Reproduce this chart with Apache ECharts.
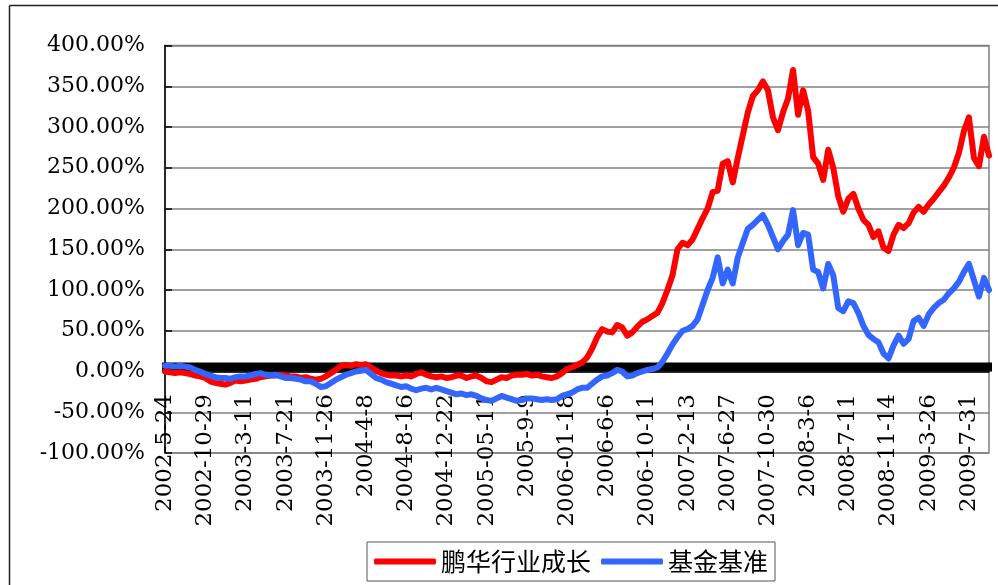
<!DOCTYPE html>
<html>
<head>
<meta charset="utf-8">
<script src="https://cdn.jsdelivr.net/npm/echarts@6/dist/echarts.min.js"></script>
<style>
html,body{margin:0;padding:0;background:#fff;}
#chart{width:998px;height:585px;}
</style>
</head>
<body>
<div id="chart"></div>
<script>
// Tick labels shown on the category axis (one every 8 sampled points)
const tickLabels = ['2002-5-24','2002-10-29','2003-3-11','2003-7-21','2003-11-26','2004-4-8','2004-8-16','2004-12-22','2005-05-11','2005-9-9','2006-01-18','2006-6-6','2006-10-11','2007-2-13','2007-6-27','2007-10-30','2008-3-6','2008-7-11','2008-11-14','2009-3-26','2009-7-31'];
const seriesNames = ['鹏华行业成长','基金基准'];

// 鹏华行业成长 cumulative return (%)
const fundValues = [0,-1,-2,-1,-2,-3,-5,-6,-8,-12,-14,-15,-16,-14,-11,-12,-11,-10,-9,-7,-6,-5,-5,-4,-5,-6,-6,-8,-7,-9,-10,-9,-6,-2,2,7,8,7,9,8,9,5,1,-2,-4,-5,-5,-6,-5,-6,-3,-1,-4,-6,-7,-6,-8,-7,-5,-5,-8,-6,-5,-8,-12,-13,-10,-7,-8,-5,-4,-4,-3,-5,-4,-6,-7,-8,-6,-2,3,5,8,11,17,28,42,52,49,48,57,54,44,48,55,61,64,68,72,84,100,118,150,158,155,162,175,188,200,220,222,255,258,232,262,290,318,338,345,356,345,312,296,318,335,370,315,345,320,263,255,235,272,250,215,196,212,218,200,186,180,165,172,152,148,168,180,176,182,195,202,196,205,212,220,228,238,250,268,295,312,262,252,288,265];

// 基金基准 cumulative return (%)
const benchValues = [7,7,6,7,6,5,2,0,-3,-5,-7,-8,-8,-9,-7,-6,-6,-5,-3,-2,-4,-5,-4,-6,-8,-8,-9,-10,-12,-12,-15,-19,-18,-14,-10,-7,-4,-2,0,1,2,-3,-8,-10,-13,-15,-17,-19,-18,-21,-23,-21,-20,-22,-20,-22,-24,-26,-28,-27,-29,-28,-30,-33,-35,-36,-33,-30,-32,-34,-36,-35,-33,-33,-34,-35,-34,-35,-34,-30,-28,-26,-22,-20,-20,-15,-10,-6,-5,-2,2,0,-6,-5,-2,0,2,3,5,12,22,33,42,50,52,56,64,82,100,115,140,108,125,108,140,158,175,180,186,192,180,165,150,160,168,198,155,170,168,125,122,102,132,118,78,74,86,84,72,56,45,40,36,22,16,32,44,34,40,62,66,56,70,78,84,88,96,102,110,122,132,112,92,115,100];

const pointsPerLabel = 8;
const categories = fundValues.map((_, i) =>
  (i % pointsPerLabel === 0 && tickLabels[i / pointsPerLabel] !== undefined) ? tickLabels[i / pointsPerLabel] : '');

const chart = echarts.init(document.getElementById('chart'));
chart.setOption({
  animation: false,
  backgroundColor: '#fff',
  graphic: [
    { type: 'line', shape: { x1: 9.5, y1: 5.5, x2: 998, y2: 5.5 }, style: { stroke: '#222', lineWidth: 1.5 } },
    { type: 'line', shape: { x1: 9.5, y1: 5.5, x2: 9.5, y2: 585 }, style: { stroke: '#222', lineWidth: 1.5 } }
  ],
  grid: {
    left: 165, top: 45.5, right: 9, bottom: 132,
    show: true, borderColor: '#808080', borderWidth: 1.5,
    containLabel: false, outerBoundsMode: 'none'
  },
  legend: {
    left: 367, top: 542,
    padding: [7, 7, 7, 7],
    borderColor: '#555', borderWidth: 1,
    itemWidth: 62, itemHeight: 6, itemGap: 10,
    icon: 'roundRect',
    textStyle: { fontFamily: 'Noto Sans CJK SC', fontSize: 25, color: '#000' },
    data: seriesNames
  },
  xAxis: {
    type: 'category',
    data: categories,
    boundaryGap: false,
    axisLine: { onZero: true, lineStyle: { color: '#000', width: 1.5 } },
    axisTick: { show: true, inside: true, length: 9, interval: 0, lineStyle: { color: '#000', width: 6 } },
    axisLabel: {
      interval: pointsPerLabel - 1, rotate: 90, margin: -59,
      fontFamily: 'DejaVu Serif', fontSize: 23, color: '#000'
    },
    splitLine: { show: false }
  },
  yAxis: {
    type: 'value', min: -100, max: 400, interval: 50,
    axisLine: { show: true, lineStyle: { color: '#000', width: 1.5 } },
    axisTick: { show: true, inside: true, length: 7, lineStyle: { color: '#000', width: 1.5 } },
    axisLabel: {
      margin: 20, fontFamily: 'DejaVu Serif', fontSize: 22, color: '#000',
      formatter: v => v.toFixed(2) + '%'
    },
    splitLine: { show: true, lineStyle: { color: '#808080', width: 1.5 } }
  },
  series: [
    {
      name: seriesNames[0], type: 'line', data: fundValues,
      symbol: 'none', showSymbol: false,
      itemStyle: { color: '#FF0000' },
      lineStyle: { color: '#FF0000', width: 6, cap: 'round', join: 'round' }
    },
    {
      name: seriesNames[1], type: 'line', data: benchValues,
      symbol: 'none', showSymbol: false,
      itemStyle: { color: '#3366FF' },
      lineStyle: { color: '#3366FF', width: 6, cap: 'round', join: 'round' }
    }
  ]
});
</script>
</body>
</html>
